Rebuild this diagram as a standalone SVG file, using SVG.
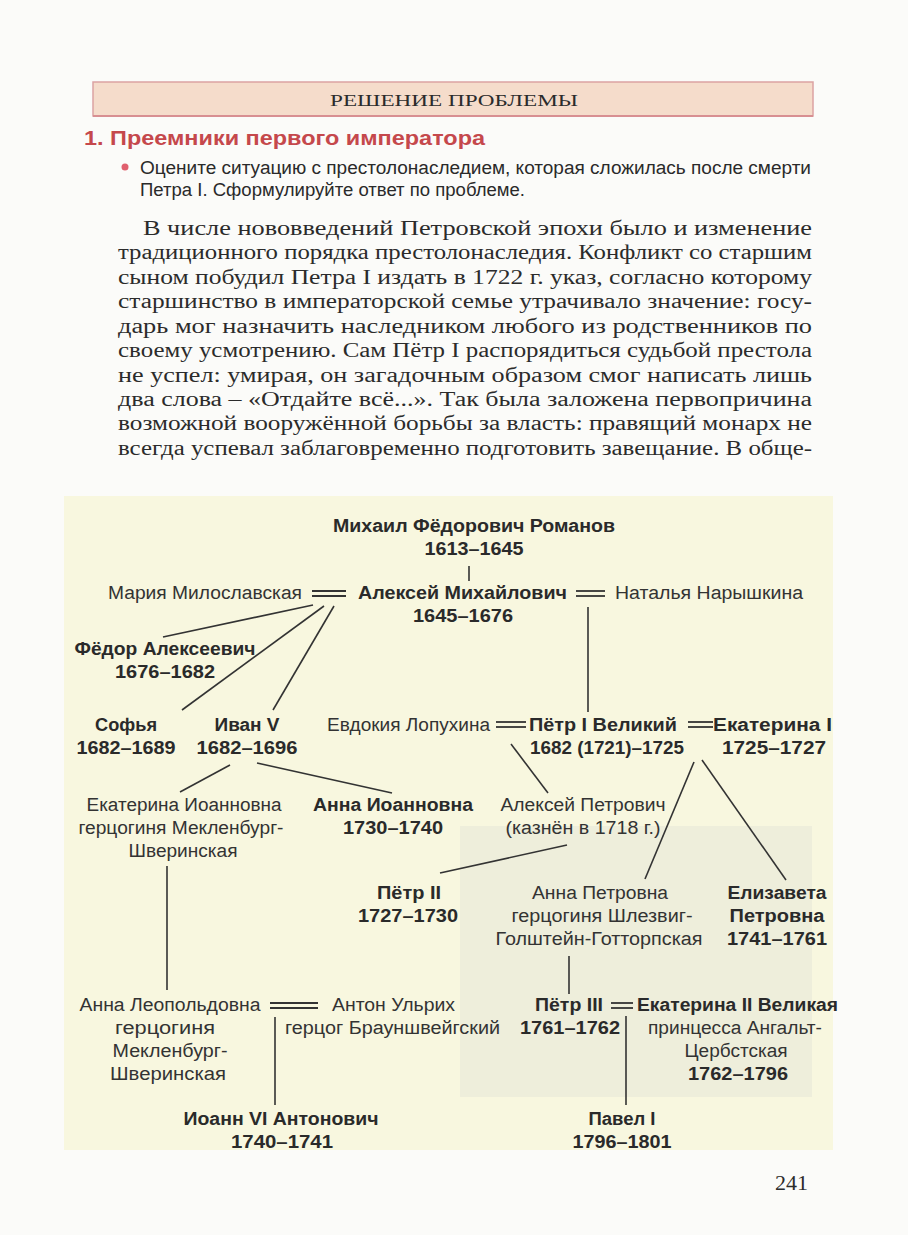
<svg xmlns="http://www.w3.org/2000/svg" width="908" height="1235" viewBox="0 0 908 1235">
<style>
.p{font-family:"Liberation Serif","DejaVu Serif",serif;font-size:20px;fill:#2b2b2b}
.s{font-family:"Liberation Sans","Noto Sans",sans-serif;font-size:18px;fill:#333}
.b{font-family:"Liberation Sans","Noto Sans",sans-serif;font-size:18px;font-weight:bold;fill:#2a2a2a}
.m{text-anchor:middle}
.ln{stroke:#333;stroke-width:1.6;fill:none}
.dbl{stroke:#333;stroke-width:1.8;fill:none}
</style>
<rect width="908" height="1235" fill="#fbfbf9"/>
<g id="header">
<rect x="93" y="82" width="720" height="34" fill="#f5dccb" stroke="#dba3a3" stroke-width="1.5"/>
<line x1="93" y1="116" x2="813" y2="116" stroke="#d88f92" stroke-width="2"/>
<text x="454" y="106" class="p m" style="font-size:17px" textLength="248" lengthAdjust="spacingAndGlyphs">РЕШЕНИЕ ПРОБЛЕМЫ</text>
</g>
<g id="title">
<text x="84" y="145" font-family="Liberation Sans, sans-serif" font-size="20" font-weight="bold" fill="#c5484c" textLength="401" lengthAdjust="spacingAndGlyphs">1. Преемники первого императора</text>
<circle cx="125" cy="167" r="3.5" fill="#e0606e"/>
<text x="140" y="174" class="s" style="fill:#2a2a2a" textLength="671" lengthAdjust="spacingAndGlyphs">Оцените ситуацию с престолонаследием, которая сложилась после смерти</text>
<text x="140" y="196" class="s" style="fill:#2a2a2a" textLength="385" lengthAdjust="spacingAndGlyphs">Петра I. Сформулируйте ответ по проблеме.</text>
</g>
<g id="paragraph">
<text x="143" y="235" class="p" textLength="669" lengthAdjust="spacingAndGlyphs">В числе нововведений Петровской эпохи было и изменение</text>
<text x="118" y="259" class="p" textLength="694" lengthAdjust="spacingAndGlyphs">традиционного порядка престолонаследия. Конфликт со старшим</text>
<text x="118" y="284" class="p" textLength="694" lengthAdjust="spacingAndGlyphs">сыном побудил Петра I издать в 1722 г. указ, согласно которому</text>
<text x="118" y="308" class="p" textLength="694" lengthAdjust="spacingAndGlyphs">старшинство в императорской семье утрачивало значение: госу-</text>
<text x="118" y="333" class="p" textLength="694" lengthAdjust="spacingAndGlyphs">дарь мог назначить наследником любого из родственников по</text>
<text x="118" y="357" class="p" textLength="694" lengthAdjust="spacingAndGlyphs">своему усмотрению. Сам Пётр I распорядиться судьбой престола</text>
<text x="118" y="382" class="p" textLength="694" lengthAdjust="spacingAndGlyphs">не успел: умирая, он загадочным образом смог написать лишь</text>
<text x="118" y="406" class="p" textLength="694" lengthAdjust="spacingAndGlyphs">два слова – «Отдайте всё...». Так была заложена первопричина</text>
<text x="118" y="430" class="p" textLength="694" lengthAdjust="spacingAndGlyphs">возможной вооружённой борьбы за власть: правящий монарх не</text>
<text x="118" y="455" class="p" textLength="694" lengthAdjust="spacingAndGlyphs">всегда успевал заблаговременно подготовить завещание. В обще-</text>
</g>
<rect x="64" y="496" width="769" height="654" fill="#f8f7df"/>
<rect x="460" y="826" width="352" height="271" fill="#ebebd9" opacity="0.8"/>
<g id="connectors">
<line class="ln" x1="469" y1="566" x2="469" y2="581"/>
<line class="dbl" x1="312" y1="591" x2="346" y2="591"/><line class="dbl" x1="312" y1="596" x2="346" y2="596"/>
<line class="dbl" x1="576" y1="591" x2="605" y2="591"/><line class="dbl" x1="576" y1="596" x2="605" y2="596"/>
<line class="ln" x1="313" y1="605" x2="163" y2="637"/>
<line class="ln" x1="324" y1="606" x2="182" y2="710"/>
<line class="ln" x1="334" y1="606" x2="273" y2="710"/>
<line class="ln" x1="588" y1="607" x2="588" y2="712"/>
<line class="dbl" x1="496" y1="722" x2="526" y2="722"/><line class="dbl" x1="496" y1="727" x2="526" y2="727"/>
<line class="dbl" x1="688" y1="722" x2="713" y2="722"/><line class="dbl" x1="688" y1="727" x2="713" y2="727"/>
<line class="ln" x1="230" y1="765" x2="180" y2="792"/>
<line class="ln" x1="257" y1="763" x2="392" y2="793"/>
<line class="ln" x1="511" y1="744" x2="548" y2="793"/>
<line class="ln" x1="694" y1="762" x2="645" y2="879"/>
<line class="ln" x1="702" y1="760" x2="786" y2="880"/>
<line class="ln" x1="567" y1="845" x2="440" y2="873"/>
<line class="ln" x1="167" y1="866" x2="167" y2="990"/>
<line class="ln" x1="569" y1="956" x2="569" y2="994"/>
<line class="dbl" x1="270" y1="1003" x2="318" y2="1003"/><line class="dbl" x1="270" y1="1008" x2="318" y2="1008"/>
<line class="ln" x1="275" y1="1017" x2="275" y2="1105"/>
<line class="dbl" x1="611" y1="1003" x2="633" y2="1003"/><line class="dbl" x1="611" y1="1008" x2="633" y2="1008"/>
<line class="ln" x1="626" y1="1016" x2="626" y2="1105"/>
</g>
<g id="mikhail"><text x="474" y="532" class="b m" textLength="282" lengthAdjust="spacingAndGlyphs">Михаил Фёдорович Романов</text><text x="474" y="555" class="b m" textLength="99" lengthAdjust="spacingAndGlyphs">1613–1645</text></g>
<g id="maria"><text x="108" y="599" class="s" textLength="194" lengthAdjust="spacingAndGlyphs">Мария Милославская</text></g>
<g id="aleksey"><text x="358" y="599" class="b" textLength="209" lengthAdjust="spacingAndGlyphs">Алексей Михайлович</text><text x="463" y="622" class="b m" textLength="100" lengthAdjust="spacingAndGlyphs">1645–1676</text></g>
<g id="natalya"><text x="615" y="599" class="s" textLength="188" lengthAdjust="spacingAndGlyphs">Наталья Нарышкина</text></g>
<g id="fedor"><text x="165" y="655" class="b m" textLength="181" lengthAdjust="spacingAndGlyphs">Фёдор Алексеевич</text><text x="165" y="678" class="b m" textLength="100" lengthAdjust="spacingAndGlyphs">1676–1682</text></g>
<g id="sofya"><text x="126" y="731" class="b m" textLength="62" lengthAdjust="spacingAndGlyphs">Софья</text><text x="126" y="754" class="b m" textLength="99" lengthAdjust="spacingAndGlyphs">1682–1689</text></g>
<g id="ivan5"><text x="247" y="731" class="b m" textLength="65" lengthAdjust="spacingAndGlyphs">Иван V</text><text x="247" y="754" class="b m" textLength="101" lengthAdjust="spacingAndGlyphs">1682–1696</text></g>
<g id="evdokiya"><text x="327" y="731" class="s" textLength="163" lengthAdjust="spacingAndGlyphs">Евдокия Лопухина</text></g>
<g id="petr1"><text x="529" y="731" class="b" textLength="148" lengthAdjust="spacingAndGlyphs">Пётр I Великий</text><text x="530" y="754" class="b" textLength="154" lengthAdjust="spacingAndGlyphs">1682 (1721)–1725</text></g>
<g id="ekaterina1"><text x="713" y="731" class="b" textLength="119" lengthAdjust="spacingAndGlyphs">Екатерина I</text><text x="774" y="754" class="b m" textLength="104" lengthAdjust="spacingAndGlyphs">1725–1727</text></g>
<g id="ekaterina-ioannovna"><text x="184" y="811" class="s m" textLength="195" lengthAdjust="spacingAndGlyphs">Екатерина Иоанновна</text><text x="181" y="834" class="s m" textLength="205" lengthAdjust="spacingAndGlyphs">герцогиня Мекленбург-</text><text x="183" y="857" class="s m" textLength="109" lengthAdjust="spacingAndGlyphs">Шверинская</text></g>
<g id="anna-ioannovna"><text x="393" y="811" class="b m" textLength="160" lengthAdjust="spacingAndGlyphs">Анна Иоанновна</text><text x="393" y="834" class="b m" textLength="100" lengthAdjust="spacingAndGlyphs">1730–1740</text></g>
<g id="aleksey-petrovich"><text x="583" y="811" class="s m" textLength="165" lengthAdjust="spacingAndGlyphs">Алексей Петрович</text><text x="583" y="834" class="s m" textLength="155" lengthAdjust="spacingAndGlyphs">(казнён в 1718 г.)</text></g>
<g id="petr2"><text x="409" y="899" class="b m" textLength="64" lengthAdjust="spacingAndGlyphs">Пётр II</text><text x="408" y="922" class="b m" textLength="100" lengthAdjust="spacingAndGlyphs">1727–1730</text></g>
<g id="anna-petrovna"><text x="600" y="899" class="s m" textLength="136" lengthAdjust="spacingAndGlyphs">Анна Петровна</text><text x="602" y="922" class="s m" textLength="181" lengthAdjust="spacingAndGlyphs">герцогиня Шлезвиг-</text><text x="599" y="945" class="s m" textLength="207" lengthAdjust="spacingAndGlyphs">Голштейн-Готторпская</text></g>
<g id="elizaveta"><text x="777" y="899" class="b m" textLength="99" lengthAdjust="spacingAndGlyphs">Елизавета</text><text x="777" y="922" class="b m" textLength="95" lengthAdjust="spacingAndGlyphs">Петровна</text><text x="777" y="945" class="b m" textLength="100" lengthAdjust="spacingAndGlyphs">1741–1761</text></g>
<g id="anna-leopoldovna"><text x="170" y="1011" class="s m" textLength="181" lengthAdjust="spacingAndGlyphs">Анна Леопольдовна</text><text x="165" y="1034" class="s m" textLength="100" lengthAdjust="spacingAndGlyphs">герцогиня</text><text x="170" y="1057" class="s m" textLength="115" lengthAdjust="spacingAndGlyphs">Мекленбург-</text><text x="168" y="1080" class="s m" textLength="116" lengthAdjust="spacingAndGlyphs">Шверинская</text></g>
<g id="anton"><text x="332" y="1011" class="s" textLength="123" lengthAdjust="spacingAndGlyphs">Антон Ульрих</text><text x="285" y="1034" class="s" textLength="215" lengthAdjust="spacingAndGlyphs">герцог Брауншвейгский</text></g>
<g id="petr3"><text x="535" y="1011" class="b" textLength="68" lengthAdjust="spacingAndGlyphs">Пётр III</text><text x="570" y="1034" class="b m" textLength="100" lengthAdjust="spacingAndGlyphs">1761–1762</text></g>
<g id="ekaterina2"><text x="637" y="1011" class="b" textLength="201" lengthAdjust="spacingAndGlyphs">Екатерина II Великая</text><text x="735" y="1034" class="s m" textLength="174" lengthAdjust="spacingAndGlyphs">принцесса Ангальт-</text><text x="736" y="1057" class="s m" textLength="103" lengthAdjust="spacingAndGlyphs">Цербстская</text><text x="738" y="1080" class="b m" textLength="100" lengthAdjust="spacingAndGlyphs">1762–1796</text></g>
<g id="ioann6"><text x="281" y="1125" class="b m" textLength="195" lengthAdjust="spacingAndGlyphs">Иоанн VI Антонович</text><text x="282" y="1148" class="b m" textLength="102" lengthAdjust="spacingAndGlyphs">1740–1741</text></g>
<g id="pavel1"><text x="622" y="1125" class="b m" textLength="67" lengthAdjust="spacingAndGlyphs">Павел I</text><text x="622" y="1148" class="b m" textLength="99" lengthAdjust="spacingAndGlyphs">1796–1801</text></g>
<g id="page"><text x="775" y="1190" class="p" style="font-size:20px" textLength="33" lengthAdjust="spacingAndGlyphs">241</text></g>
</svg>
